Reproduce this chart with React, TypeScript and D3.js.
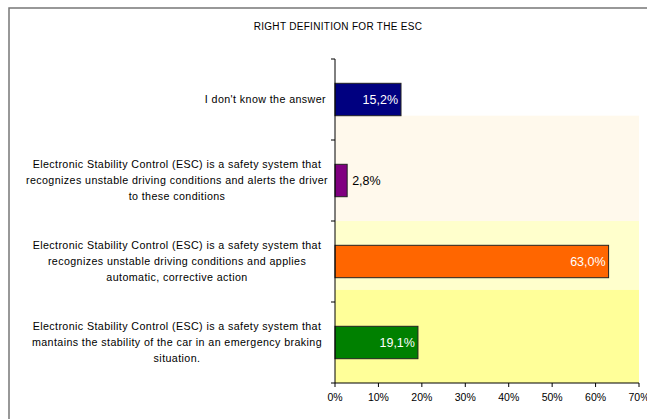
import React from "react";
import * as d3 from "d3";

const title = "RIGHT DEFINITION FOR THE ESC";
const categories: string[][] = [
  ["I don't know the answer"],
  [
    "Electronic Stability Control (ESC) is a safety system that",
    "recognizes unstable driving conditions and alerts the driver",
    "to these conditions",
  ],
  [
    "Electronic Stability Control (ESC) is a safety system that",
    "recognizes unstable driving conditions and applies",
    "automatic, corrective action",
  ],
  [
    "Electronic Stability Control (ESC) is a safety system that",
    "mantains the stability of the car in an emergency braking",
    "situation.",
  ],
];
const values = [15.2, 2.8, 63.0, 19.1];
const barColors = ["#000080", "#800080", "#FF6600", "#008000"];
const labelInside = [true, false, true, true];
const xTicks = [0, 10, 20, 30, 40, 50, 60, 70];
const bandStops = [0, 0.7, 2.0, 2.85, 4]; // in category units from top
const bandColors = ["#FFFFFF", "#FFF9EC", "#FFFFCC", "#FFFF99"];

export default function App() {
  const W = 647, H = 419;
  const left = 335, right = 639, top = 59, bottom = 383;
  const x = d3.scaleLinear().domain([0, 70]).range([left, right]);
  const idx = categories.map((_, i) => i);
  const y = d3.scaleBand<number>().domain(idx).range([top, bottom]).paddingInner(0.6).paddingOuter(0.3);
  const yc = d3.scaleLinear().domain([0, 4]).range([top, bottom]);
  const font = "'Liberation Sans', Arial, sans-serif";
  const fmt = (v: number) => v.toFixed(1).replace(".", ",") + "%";

  return (
    <svg width={W} height={H} style={{ position: "absolute", left: 0, top: 0, background: "#fff" }} fontFamily={font}>
      <rect x={9} y={8} width={700} height={500} fill="#fff" stroke="#777" strokeWidth={1.5} />
      <text x={338} y={30} textAnchor="middle" fontSize={10} letterSpacing={0.3} fill="#000">{title}</text>
      {bandColors.map((c, i) => (
        <rect key={i} x={left} y={yc(bandStops[i])} width={right - left}
          height={yc(bandStops[i + 1]) - yc(bandStops[i])} fill={c} />
      ))}
      {idx.map((i) => {
        const by = y(i)!;
        const bh = y.bandwidth();
        const xe = x(values[i]);
        return (
          <g key={i}>
            <rect x={left} y={by} width={xe - left} height={bh} fill={barColors[i]} stroke="#222" strokeWidth={1} />
            {labelInside[i] ? (
              <text x={xe - 3} y={by + bh / 2 + 4.5} textAnchor="end" fontSize={12.5} fill="#fff">{fmt(values[i])}</text>
            ) : (
              <text x={xe + 5} y={by + bh / 2 + 4.5} textAnchor="start" fontSize={12.5} fill="#000">{fmt(values[i])}</text>
            )}
          </g>
        );
      })}
      {/* category labels */}
      {idx.map((i) => {
        const lines = categories[i];
        const cy = y(i)! + y.bandwidth() / 2;
        const lh = 16;
        const single = lines.length === 1;
        return (
          <text key={i} fontSize={10.7} letterSpacing={0.4} fill="#000" textAnchor={single ? "end" : "middle"}>
            {lines.map((l, j) => (
              <tspan key={j} x={single ? 326 : 177} y={cy + (j - (lines.length - 1) / 2) * lh + 3.5}>{l}</tspan>
            ))}
          </text>
        );
      })}
      {/* axes */}
      <line x1={left} y1={top} x2={left} y2={bottom} stroke="#000" />
      {d3.range(5).map((k) => (
        <line key={k} x1={left - 4} x2={left} y1={yc(k)} y2={yc(k)} stroke="#000" />
      ))}
      <line x1={left} y1={bottom} x2={right} y2={bottom} stroke="#000" />
      {xTicks.map((t) => (
        <g key={t}>
          <line x1={x(t)} x2={x(t)} y1={bottom} y2={bottom + 4} stroke="#000" />
          <text x={x(t)} y={bottom + 18} textAnchor="middle" fontSize={10.5} fill="#000">{t + "%"}</text>
        </g>
      ))}
    </svg>
  );
}
